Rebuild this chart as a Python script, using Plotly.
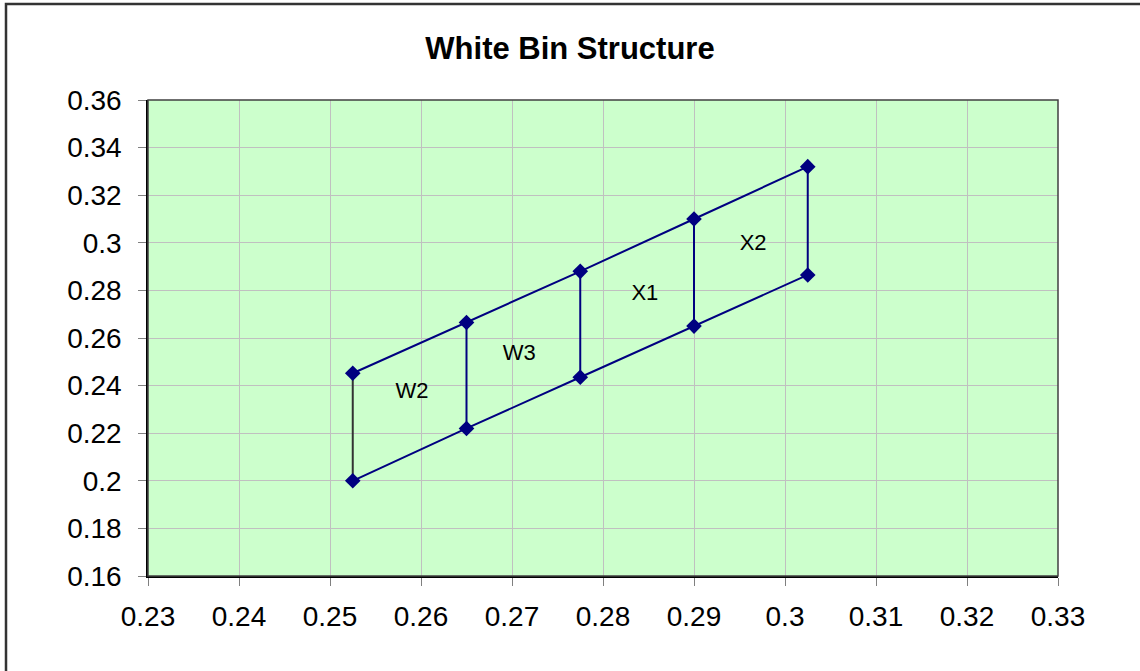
import plotly.graph_objects as go

# Data
x_vals = [0.2525, 0.265, 0.2775, 0.29, 0.3025]
top_y = [0.2452, 0.2665, 0.2880, 0.3100, 0.3320]
bottom_y = [0.2000, 0.2220, 0.2435, 0.2650, 0.2865]
bin_labels = ["W2", "W3", "X1", "X2"]
label_x = [0.2590, 0.2708, 0.2846, 0.2965]
label_y = [0.2373, 0.2529, 0.2781, 0.2991]
x_ticks = [0.23, 0.24, 0.25, 0.26, 0.27, 0.28, 0.29, 0.3, 0.31, 0.32, 0.33]
y_ticks = [0.16, 0.18, 0.2, 0.22, 0.24, 0.26, 0.28, 0.3, 0.32, 0.34, 0.36]

NAVY = "#000080"
fig = go.Figure()

# vertical edges
for i, xv in enumerate(x_vals):
    col = "#333333" if i == 0 else NAVY
    fig.add_trace(go.Scatter(x=[xv, xv], y=[bottom_y[i], top_y[i]], mode="lines",
                             line=dict(color=col, width=2), showlegend=False, hoverinfo="skip"))

for ys in (top_y, bottom_y):
    fig.add_trace(go.Scatter(x=x_vals, y=ys, mode="lines+markers",
                             line=dict(color=NAVY, width=2),
                             marker=dict(symbol="diamond", size=12, color=NAVY),
                             showlegend=False))

fig.add_trace(go.Scatter(x=label_x, y=label_y, mode="text", text=bin_labels,
                         textfont=dict(family="Liberation Sans, Arial", size=22, color="black"),
                         showlegend=False, hoverinfo="skip"))

L, R, T, B = 148, 82, 100, 95
PW = 1140 - L - R
PH = 671 - T - B

fig.update_layout(
    width=1140, height=671,
    margin=dict(l=L, r=R, t=T, b=B),
    paper_bgcolor="white", plot_bgcolor="#CCFFCC",
    font=dict(family="Liberation Sans, Arial", size=28, color="black"),
    title=dict(text="<b>White Bin Structure</b>", x=0.5, xanchor="center",
               y=1 - 48 / 671, yanchor="middle", font=dict(size=31)),
    xaxis=dict(range=[0.23, 0.33], tickvals=x_ticks, ticktext=[f"{v:g}" for v in x_ticks],
               showgrid=True, gridcolor="#C0C0C0", gridwidth=1, zeroline=False,
               showline=True, linecolor="black", linewidth=2,
               ticks="outside", ticklen=8, tickcolor="#808080", ticklabelstandoff=6),
    yaxis=dict(range=[0.16, 0.36], tickvals=y_ticks, ticktext=[f"{v:g}" for v in y_ticks],
               showgrid=True, gridcolor="#C0C0C0", gridwidth=1, zeroline=False,
               showline=True, linecolor="black", linewidth=1.5,
               ticks="outside", ticklen=8, tickcolor="#808080", ticklabelstandoff=11),
    shapes=[
        dict(type="rect", xref="paper", yref="paper", x0=0, y0=0, x1=1, y1=1,
             line=dict(color="#404040", width=1.5), layer="above"),
        dict(type="rect", xref="paper", yref="paper",
             x0=(6 - L) / PW, y0=-0.5, x1=1.5, y1=1 + (T - 4) / PH,
             line=dict(color="#333333", width=2.5), layer="above"),
    ],
)

fig.write_html("out.html", config={"displayModeBar": False},
               post_script="document.body.style.margin='0';")
